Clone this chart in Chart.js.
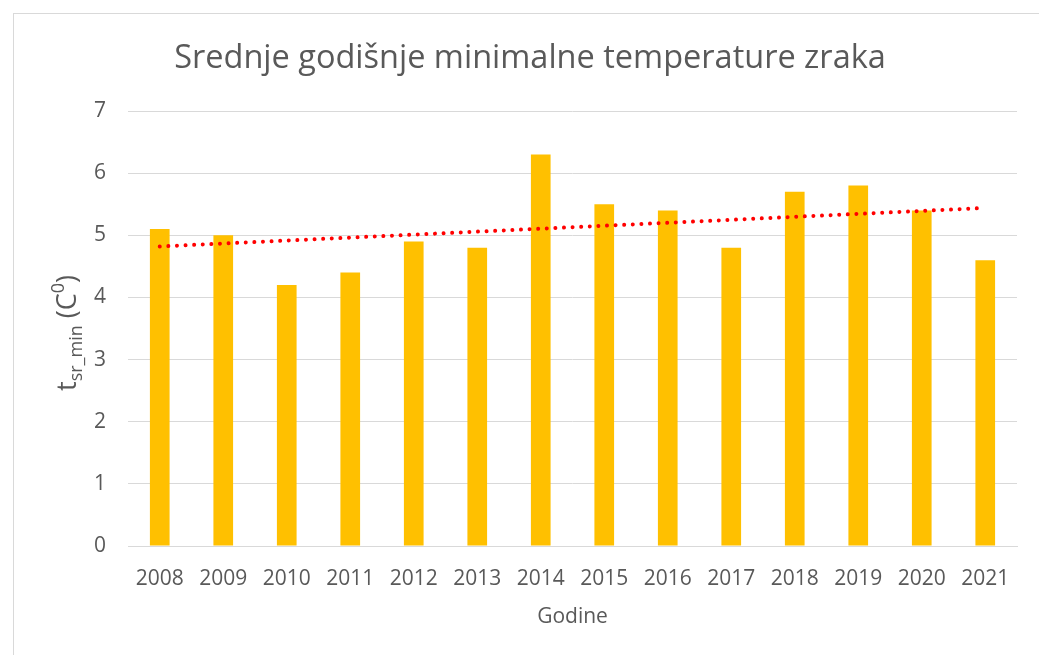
<!DOCTYPE html>
<html>
<head>
<meta charset="utf-8">
<script src="https://cdn.jsdelivr.net/npm/chart.js@4"></script>
<style>
  html,body{margin:0;padding:0;background:#fff;overflow:hidden;}
  #frame{position:absolute;left:13px;top:13px;width:1100px;height:700px;border:1px solid #d9d9d9;}
  #wrap{position:absolute;left:0;top:0;width:1039px;height:655px;}
</style>
</head>
<body>
<div id="frame"></div>
<div id="wrap"><canvas id="c" width="1039" height="655"></canvas></div>
<script>
const years = ['2008','2009','2010','2011','2012','2013','2014','2015','2016','2017','2018','2019','2020','2021'];
const tMin = [5.1, 5.0, 4.2, 4.4, 4.9, 4.8, 6.3, 5.5, 5.4, 4.8, 5.7, 5.8, 5.4, 4.6];
const trend = [4.82, null, null, null, null, null, null, null, null, null, null, null, null, 5.44];
const chartTitle = 'Srednje godišnje minimalne temperature zraka';
const xTitle = 'Godine';
const yTitleParts = [
  {t:'t', kind:'main'},
  {t:'sr_min', kind:'sub'},
  {t:' (C', kind:'main'},
  {t:'0', kind:'sup'},
  {t:')', kind:'main'}
];

const FONT = '"Open Sans", "Noto Sans", sans-serif';
const TXT = '#595959';

const textPlugin = {
  id: 'texts',
  afterDraw(chart) {
    const ctx = chart.ctx;
    ctx.save();
    ctx.fillStyle = TXT;
    // chart title
    ctx.font = '32.5px ' + FONT;
    ctx.textAlign = 'center';
    ctx.textBaseline = 'middle';
    ctx.fillText(chartTitle, 530, 59);
    // y axis title with sub/superscript
    const mainF = '27px ' + FONT, smallF = '18px ' + FONT;
    const cx = 76, cy = 333;
    ctx.textBaseline = 'alphabetic';
    ctx.textAlign = 'left';
    let total = 0;
    yTitleParts.forEach(p => { ctx.font = p.kind === 'main' ? mainF : smallF; total += ctx.measureText(p.t).width; });
    ctx.translate(cx, cy);
    ctx.rotate(-Math.PI / 2);
    let x = -total / 2;
    yTitleParts.forEach(p => {
      ctx.font = p.kind === 'main' ? mainF : smallF;
      let dy = 0;
      if (p.kind === 'sub') dy = 6;
      if (p.kind === 'sup') dy = -12;
      ctx.fillText(p.t, x, dy);
      x += ctx.measureText(p.t).width;
    });
    ctx.restore();
  }
};

new Chart(document.getElementById('c'), {
  data: {
    labels: years,
    datasets: [
      {
        type: 'line',
        data: trend,
        spanGaps: true,
        borderColor: '#ff0000',
        borderWidth: 4,
        borderDash: [0.01, 8.6],
        borderCapStyle: 'round',
        pointRadius: 0,
        fill: false,
        order: 0
      },
      {
        type: 'bar',
        data: tMin,
        backgroundColor: '#ffc000',
        barPercentage: 0.31,
        categoryPercentage: 1.0,
        order: 1
      }
    ]
  },
  options: {
    responsive: false,
    animation: false,
    devicePixelRatio: 1,
    layout: { padding: { top: 111, left: 0, right: 22, bottom: 25 } },
    plugins: {
      legend: { display: false },
      tooltip: { enabled: false },
      title: { display: false }
    },
    scales: {
      x: {
        afterFit(s) { s.height = 84; },
        grid: { display: false, drawTicks: false },
        border: { color: '#d9d9d9', width: 1 },
        ticks: { color: TXT, font: { family: FONT, size: 21 }, padding: 20, maxRotation: 0 },
        title: { display: true, text: xTitle, color: TXT, font: { family: FONT, size: 21 }, padding: { top: 0, bottom: 0 } }
      },
      y: {
        min: 0, max: 7,
        afterFit(s) { s.width = 128; },
        grid: { color: '#d9d9d9', lineWidth: 1, drawTicks: false },
        border: { display: false },
        ticks: { stepSize: 1, color: TXT, font: { family: FONT, size: 21 }, padding: 22 }
      }
    }
  },
  plugins: [textPlugin]
});
</script>
</body>
</html>
